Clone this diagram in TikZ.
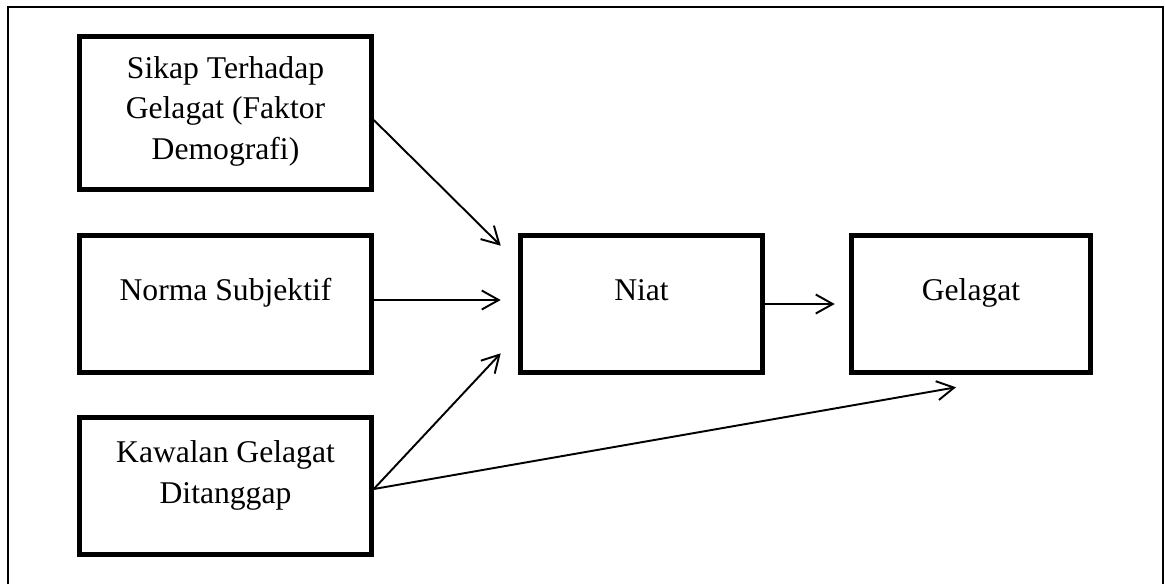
\documentclass[tikz,border=0pt]{standalone}
\usepackage{fontspec}
\setmainfont{Liberation Serif}
\usetikzlibrary{arrows.meta}
\tikzset{
  kotak/.style={draw, line width=2.6pt, inner sep=0pt, align=center,
    minimum width=5.84cm, minimum height=2.74cm, text height=0.5cm,
    text depth=0.66cm, font=\fontsize{18}{22.8}\selectfont},
  panah/.style={line width=1.1pt, -{Straight Barb[length=0.34cm, width=0.38cm]}}
}
\begin{document}
\begin{tikzpicture}
\useasboundingbox (0,0) rectangle (23.3,-11.68);
% Bingkai
\draw[line width=0.85pt] (0.16,-11.68) -- (0.16,-0.14) -- (23.26,-0.14) -- (23.26,-11.68);
% Kotak
\node[kotak, minimum height=3.06cm, text height=2.1cm, text depth=0.26cm] (sikap) at (4.51,-2.26)
  {Sikap Terhadap\\Gelagat (Faktor\\Demografi)};
\node[kotak] (norma) at (4.51,-6.08) {Norma Subjektif};
\node[kotak, text height=1.32cm, text depth=0.64cm] (kawalan) at (4.51,-9.72) {Kawalan Gelagat\\Ditanggap};
\node[kotak, minimum width=4.84cm] (niat) at (12.83,-6.08) {Niat};
\node[kotak, minimum width=4.78cm] (gelagat) at (19.42,-6.08) {Gelagat};
% Anak panah
\draw[panah] ([yshift=-0.14cm]sikap.east) -- ([xshift=-0.35cm, yshift=-0.25cm]niat.north west);
\draw[panah] ([yshift=0.08cm]norma.east) -- ([xshift=-0.35cm, yshift=0.08cm]niat.west);
\draw[panah] ([yshift=-0.06cm]kawalan.east) -- ([xshift=-0.35cm, yshift=0.43cm]niat.south west);
\draw[panah] (niat.east) -- ([xshift=-0.29cm]gelagat.west);
\draw[panah] ([yshift=-0.06cm]kawalan.east) -- ([xshift=-0.3cm, yshift=-0.25cm]gelagat.south);
\end{tikzpicture}
\end{document}
